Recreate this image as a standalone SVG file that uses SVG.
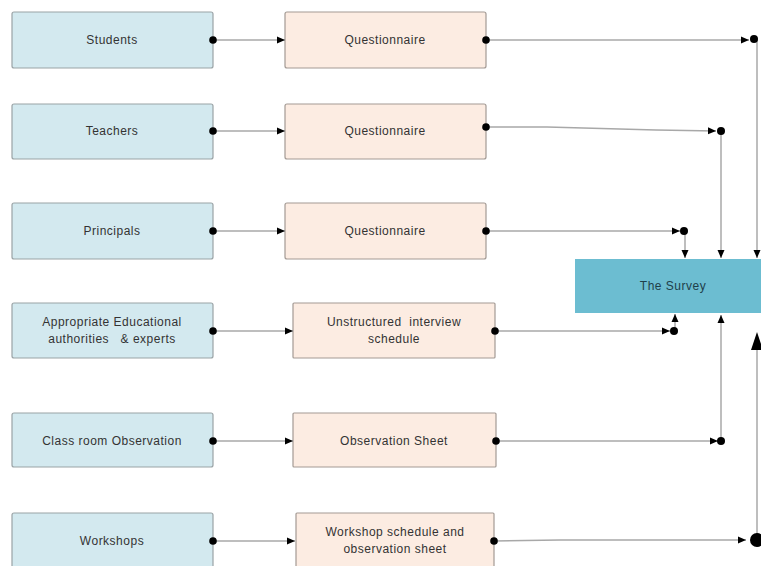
<svg xmlns="http://www.w3.org/2000/svg" width="761" height="566" viewBox="0 0 761 566">
<style>
.src{fill:#d3e9ef;stroke:#9aa3a6;stroke-width:1.2}
.mid{fill:#fcece2;stroke:#a39a94;stroke-width:1.2}
.srv{fill:#6cbdd1;stroke:none}
text{font-family:"Liberation Sans",Arial,sans-serif;font-size:12px;fill:#333;text-anchor:middle;letter-spacing:0.5px}
.ln{fill:none;stroke:#a8a8a8;stroke-width:1.5}
.dot{fill:#000}
.ah{fill:#000}
</style>
<defs>
<marker id="arr" viewBox="0 0 8 8" refX="8" refY="4" markerWidth="8" markerHeight="8" markerUnits="userSpaceOnUse" orient="auto">
<path d="M0,0.5 L8,4 L0,7.5 Z" fill="#000"/>
</marker>
<marker id="dotm" viewBox="0 0 8 8" refX="4" refY="4" markerWidth="8" markerHeight="8" markerUnits="userSpaceOnUse" orient="auto">
<circle cx="4" cy="4" r="3.8" fill="#000"/>
</marker>
</defs>

<g id="n-students"><rect class="src" x="12" y="12" width="201" height="56" rx="2"/><text x="112" y="44">Students</text></g>
<g id="n-teachers"><rect class="src" x="12" y="104" width="201" height="55" rx="2"/><text x="112" y="135">Teachers</text></g>
<g id="n-principals"><rect class="src" x="12" y="203" width="201" height="56" rx="2"/><text x="112" y="235">Principals</text></g>
<g id="n-authorities"><rect class="src" x="12" y="303" width="201" height="55" rx="2"/><text x="112" y="326">Appropriate Educational</text><text x="112" y="343">authorities &#160; &amp; experts</text></g>
<g id="n-classroom"><rect class="src" x="12" y="413" width="201" height="54" rx="2"/><text x="112" y="445">Class room Observation</text></g>
<g id="n-workshops"><rect class="src" x="12" y="513" width="201" height="60" rx="2"/><text x="112" y="545">Workshops</text></g>

<g id="n-q1"><rect class="mid" x="285" y="12" width="201" height="56" rx="2"/><text x="385" y="44">Questionnaire</text></g>
<g id="n-q2"><rect class="mid" x="285" y="104" width="201" height="55" rx="2"/><text x="385" y="135">Questionnaire</text></g>
<g id="n-q3"><rect class="mid" x="285" y="203" width="201" height="56" rx="2"/><text x="385" y="235">Questionnaire</text></g>
<g id="n-interview"><rect class="mid" x="293" y="303" width="202" height="55" rx="1"/><text x="394" y="326">Unstructured &#160;interview</text><text x="394" y="343">schedule</text></g>
<g id="n-obssheet"><rect class="mid" x="293" y="413" width="203" height="54" rx="1"/><text x="394" y="445">Observation Sheet</text></g>
<g id="n-wsched"><rect class="mid" x="296" y="513" width="198" height="60" rx="1"/><text x="395" y="536">Workshop schedule and</text><text x="395" y="553">observation sheet</text></g>

<g id="n-survey"><rect class="srv" x="575" y="259" width="200" height="54"/><text x="673" y="290" style="fill:#1f3f4a">The Survey</text></g>

<g id="connectors">
<line class="ln" x1="213" y1="40" x2="285" y2="40" marker-start="url(#dotm)" marker-end="url(#arr)"/>
<line class="ln" x1="213" y1="131" x2="285" y2="131" marker-start="url(#dotm)" marker-end="url(#arr)"/>
<line class="ln" x1="213" y1="231" x2="285" y2="231" marker-start="url(#dotm)" marker-end="url(#arr)"/>
<line class="ln" x1="213" y1="331" x2="293" y2="331" marker-start="url(#dotm)" marker-end="url(#arr)"/>
<line class="ln" x1="213" y1="441" x2="293" y2="441" marker-start="url(#dotm)" marker-end="url(#arr)"/>
<line class="ln" x1="213" y1="541" x2="295" y2="541" marker-start="url(#dotm)" marker-end="url(#arr)"/>

<line class="ln" x1="757" y1="40" x2="757" y2="258" marker-end="url(#arr)"/>
<line class="ln" x1="486" y1="40" x2="749" y2="40" marker-start="url(#dotm)" marker-end="url(#arr)"/>
<circle class="dot" cx="754" cy="39" r="4"/>

<line class="ln" x1="721" y1="131" x2="721" y2="258" marker-end="url(#arr)"/>
<polyline class="ln" points="486,127 547,127 656,130 716,131" marker-start="url(#dotm)" marker-end="url(#arr)"/>
<circle class="dot" cx="721" cy="131" r="4"/>

<line class="ln" x1="685" y1="231" x2="685" y2="258" marker-end="url(#arr)"/>
<line class="ln" x1="486" y1="231" x2="680" y2="231" marker-start="url(#dotm)" marker-end="url(#arr)"/>
<circle class="dot" cx="684" cy="231" r="4"/>

<line class="ln" x1="675" y1="331" x2="675" y2="314" marker-end="url(#arr)"/>
<line class="ln" x1="495" y1="331" x2="670" y2="331" marker-start="url(#dotm)" marker-end="url(#arr)"/>
<circle class="dot" cx="674" cy="331" r="4"/>

<line class="ln" x1="721" y1="441" x2="721" y2="315" marker-end="url(#arr)"/>
<line class="ln" x1="496" y1="441" x2="718" y2="441" marker-start="url(#dotm)" marker-end="url(#arr)"/>
<circle class="dot" cx="721" cy="441" r="4"/>

<line class="ln" x1="757" y1="540" x2="757" y2="348"/>
<path class="ah" d="M757,332 L763,350 L751,350 Z"/>
<polyline class="ln" points="494,541 560,540 746,540" marker-start="url(#dotm)" marker-end="url(#arr)"/>
<circle class="dot" cx="757" cy="540" r="7"/>
</g>
</svg>
